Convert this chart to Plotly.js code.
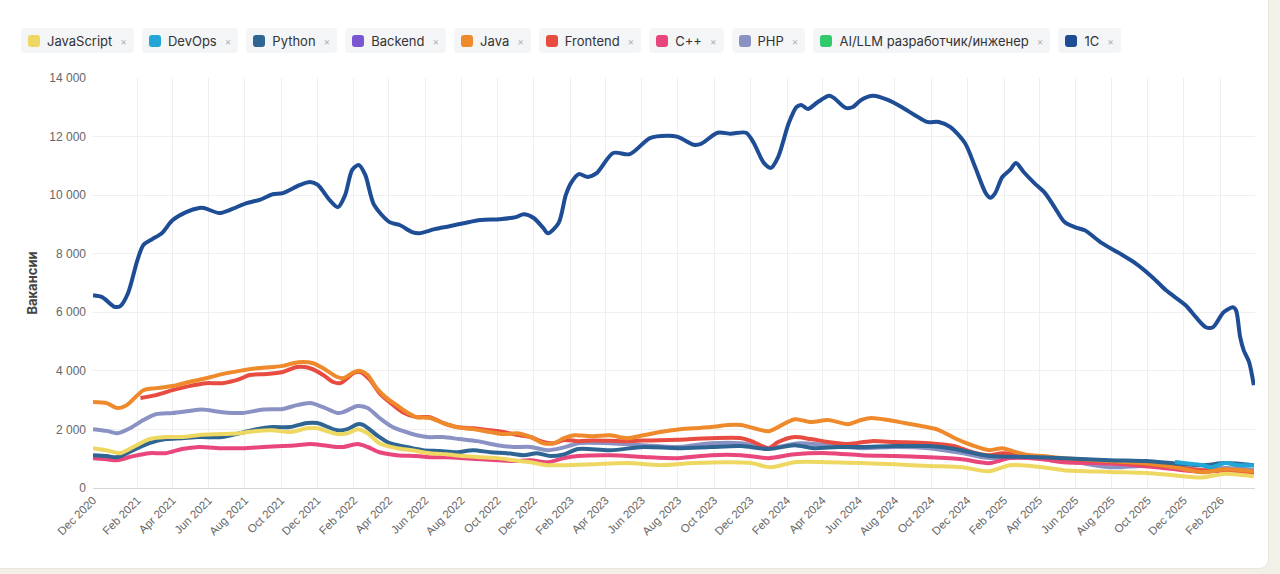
<!DOCTYPE html>
<html>
<head>
<meta charset="utf-8">
<script src="https://cdn.plot.ly/plotly-3.0.1.min.js"></script>
<style>
  html, body { margin: 0; padding: 0; width: 1280px; height: 574px; overflow: hidden; background: #f3f0e7; }
  #card { position: absolute; left: -12px; top: -12px; width: 1279px; height: 579px; background: #ffffff; border-radius: 10px; border: 1px solid #ebe7dc; }
  #legend { position: absolute; left: 21px; top: 28px; display: flex; gap: 8px; font-family: Inter, "Noto Sans", sans-serif; font-size: 13px; color: #333; }
  .chip { height: 25px; display: flex; align-items: center; background: #f4f5f7; border-radius: 4px; padding: 0 7px 0 7px; }
  .sw { width: 12px; height: 12px; border-radius: 3px; margin-right: 7px; }
  .x { color: #b0b0b0; font-size: 10px; margin-left: 8px; }
  #chart { position: absolute; left: 0; top: 0; width: 1280px; height: 574px; }
</style>
</head>
<body>
<div id="card"></div>
<div id="legend"></div>
<div id="chart"></div>
<script>
// ---- data ----
const seriesNames = ["JavaScript","DevOps","Python","Backend","Java","Frontend","C++","PHP","AI/LLM разработчик/инженер","1C"];

const jsDates = ["2020-11-18","2020-12-11","2021-01-03","2021-01-25","2021-02-21","2021-03-21","2021-04-17","2021-05-16","2021-06-24","2021-07-23","2021-08-21","2021-09-17","2021-10-16","2021-11-14","2021-12-01","2022-01-04","2022-01-21","2022-02-07","2022-02-24","2022-03-16","2022-04-14","2022-05-10","2022-06-09","2022-07-07","2022-08-04","2022-09-02","2022-10-01","2022-10-28","2022-11-26","2022-12-24","2023-01-21","2023-03-11","2023-05-07","2023-07-02","2023-08-28","2023-10-24","2023-12-02","2024-01-05","2024-02-14","2024-04-10","2024-06-05","2024-08-01","2024-09-27","2024-11-22","2025-01-07","2025-02-11","2025-04-06","2025-05-12","2025-07-29","2025-09-29","2025-11-16","2026-01-01","2026-02-09","2026-03-29"];
const jsValues = [1360,1290,1190,1400,1670,1740,1740,1810,1840,1870,1950,1970,1910,2040,2040,1840,1870,2010,1870,1530,1360,1290,1190,1150,1090,1050,1020,950,880,780,780,810,850,780,850,880,850,710,880,880,850,810,750,710,570,780,710,610,550,510,430,360,490,400];

const devopsDates = ["2025-11-16","2025-12-15","2026-01-01","2026-01-16","2026-02-09","2026-03-03","2026-03-29"];
const devopsValues = [890,820,780,710,850,780,780];

const pyDates = ["2020-11-18","2020-12-11","2020-12-29","2021-01-25","2021-02-21","2021-03-21","2021-04-17","2021-05-16","2021-06-24","2021-07-23","2021-08-21","2021-09-17","2021-10-16","2021-11-14","2021-12-01","2022-01-04","2022-01-21","2022-02-07","2022-02-17","2022-03-11","2022-04-02","2022-05-01","2022-05-28","2022-06-26","2022-07-24","2022-08-21","2022-09-19","2022-10-17","2022-11-14","2022-12-07","2022-12-29","2023-01-21","2023-02-14","2023-04-09","2023-06-04","2023-08-01","2023-09-26","2023-11-16","2024-01-01","2024-02-14","2024-03-17","2024-04-27","2024-06-05","2024-08-01","2024-09-27","2024-11-10","2025-01-07","2025-03-14","2025-05-12","2025-07-29","2025-09-29","2025-11-16","2026-01-01","2026-02-09","2026-03-29"];
const pyValues = [1120,1090,1050,1290,1530,1670,1700,1740,1740,1870,2010,2080,2080,2220,2220,1970,2010,2180,2150,1810,1530,1400,1290,1260,1220,1290,1220,1190,1120,1190,1090,1150,1330,1290,1400,1360,1400,1430,1330,1460,1360,1400,1400,1430,1430,1330,1090,1060,1020,950,920,840,780,850,780];

const backendDates = [];
const backendValues = [];

const javaDates = ["2020-11-18","2020-12-11","2020-12-29","2021-01-14","2021-02-11","2021-03-04","2021-04-01","2021-04-29","2021-05-28","2021-06-24","2021-07-23","2021-08-21","2021-09-17","2021-10-04","2021-10-21","2021-11-07","2021-11-24","2021-12-11","2022-01-04","2022-01-14","2022-02-01","2022-02-12","2022-02-24","2022-03-11","2022-03-28","2022-04-14","2022-05-01","2022-05-17","2022-06-09","2022-07-01","2022-07-24","2022-08-21","2022-09-19","2022-10-11","2022-11-04","2022-11-26","2022-12-17","2023-01-04","2023-01-21","2023-02-07","2023-03-11","2023-04-09","2023-05-07","2023-06-04","2023-07-02","2023-08-01","2023-08-28","2023-09-26","2023-10-24","2023-11-16","2023-12-07","2024-01-01","2024-01-17","2024-02-14","2024-03-12","2024-04-10","2024-04-27","2024-05-14","2024-06-05","2024-06-22","2024-07-20","2024-08-17","2024-09-16","2024-10-14","2024-11-10","2024-12-09","2025-01-07","2025-01-29","2025-02-21","2025-03-14","2025-04-06","2025-05-12","2025-07-29","2025-09-29","2025-11-16","2026-01-01","2026-02-09","2026-03-29"];
const javaValues = [2940,2900,2730,2830,3340,3410,3480,3620,3750,3890,4000,4090,4130,4170,4260,4300,4260,4090,3790,3750,3960,4000,3860,3410,3070,2830,2590,2420,2390,2220,2080,2010,1910,1840,1870,1740,1530,1530,1700,1800,1770,1800,1700,1800,1910,2000,2040,2080,2150,2150,2040,1940,2080,2350,2250,2320,2250,2180,2320,2390,2320,2220,2110,1980,1700,1460,1290,1360,1220,1120,1090,1020,920,840,710,540,640,560];

const feDates = ["2021-02-06","2021-03-04","2021-04-01","2021-04-29","2021-05-28","2021-06-24","2021-07-23","2021-08-09","2021-09-07","2021-10-04","2021-10-28","2021-11-19","2021-12-11","2021-12-28","2022-01-09","2022-02-01","2022-02-12","2022-02-28","2022-03-16","2022-04-02","2022-04-24","2022-05-17","2022-06-09","2022-07-01","2022-07-24","2022-08-21","2022-09-19","2022-10-11","2022-11-04","2022-11-26","2022-12-17","2023-01-04","2023-01-21","2023-02-14","2023-03-11","2023-04-09","2023-05-07","2023-06-04","2023-07-02","2023-08-01","2023-09-26","2023-11-16","2023-12-07","2024-01-01","2024-01-17","2024-02-14","2024-03-12","2024-04-10","2024-05-14","2024-06-22","2024-08-01","2024-09-27","2024-11-10","2024-12-09","2025-01-07","2025-01-29","2025-03-14","2025-05-12","2025-07-29","2025-10-16","2026-01-01","2026-02-09","2026-03-29"];
const feValues = [3070,3170,3340,3480,3580,3580,3720,3860,3890,3960,4130,4090,3860,3620,3580,3930,3960,3690,3240,2930,2590,2420,2420,2220,2080,2040,1970,1910,1810,1740,1570,1530,1640,1600,1620,1610,1600,1620,1630,1650,1700,1700,1570,1360,1570,1740,1670,1570,1500,1600,1570,1530,1430,1220,1120,1190,1120,1000,900,780,610,620,520];

const cppDates = ["2020-11-18","2020-12-11","2020-12-29","2021-01-25","2021-02-21","2021-03-21","2021-04-17","2021-05-16","2021-06-24","2021-07-28","2021-09-01","2021-10-04","2021-10-28","2021-11-19","2021-12-11","2022-01-04","2022-01-14","2022-02-07","2022-02-24","2022-03-16","2022-04-14","2022-05-17","2022-06-09","2022-07-07","2022-08-04","2022-09-02","2022-10-01","2022-10-28","2022-11-26","2022-12-24","2023-01-21","2023-02-14","2023-04-09","2023-06-04","2023-08-01","2023-09-26","2023-11-16","2024-01-01","2024-02-14","2024-04-10","2024-06-05","2024-08-01","2024-09-27","2024-11-22","2025-01-07","2025-02-11","2025-04-06","2025-05-12","2025-07-29","2025-10-16","2026-01-01","2026-02-09","2026-03-29"];
const cppValues = [1020,980,950,1090,1190,1190,1330,1400,1360,1360,1400,1430,1460,1500,1460,1400,1400,1500,1400,1220,1120,1090,1050,1050,1020,980,950,920,950,880,1020,1090,1120,1060,1020,1120,1120,1020,1150,1190,1120,1090,1050,980,850,1020,980,880,840,710,550,600,510];

const phpDates = ["2020-11-18","2020-12-11","2020-12-29","2021-01-19","2021-02-11","2021-03-04","2021-04-01","2021-04-29","2021-05-21","2021-06-24","2021-07-28","2021-09-01","2021-10-04","2021-10-28","2021-11-19","2021-12-11","2022-01-04","2022-01-14","2022-02-07","2022-02-24","2022-03-16","2022-04-07","2022-05-06","2022-06-04","2022-07-01","2022-07-29","2022-08-28","2022-10-01","2022-10-28","2022-11-26","2022-12-24","2023-01-16","2023-02-02","2023-02-14","2023-04-09","2023-06-04","2023-08-01","2023-09-26","2023-11-16","2024-01-01","2024-02-21","2024-04-10","2024-06-05","2024-08-01","2024-09-27","2024-11-22","2025-01-07","2025-03-14","2025-05-12","2025-07-29","2025-09-29","2025-11-16","2026-01-01","2026-02-09","2026-03-29"];
const phpValues = [2010,1950,1870,2040,2320,2520,2560,2630,2680,2590,2560,2680,2700,2830,2900,2760,2560,2590,2800,2730,2390,2080,1870,1740,1740,1670,1600,1460,1400,1400,1290,1360,1460,1530,1530,1460,1400,1530,1530,1360,1530,1460,1360,1400,1360,1190,1020,1060,960,710,760,720,600,680,620];

const aiDates = [];
const aiValues = [];

const c1Dates = ["2020-11-18","2020-12-04","2020-12-24","2021-01-03","2021-01-16","2021-02-01","2021-02-11","2021-02-26","2021-03-14","2021-04-01","2021-04-24","2021-05-16","2021-05-24","2021-06-19","2021-07-11","2021-08-04","2021-08-26","2021-09-17","2021-10-04","2021-11-02","2021-11-19","2021-12-02","2021-12-22","2022-01-05","2022-01-17","2022-01-29","2022-02-09","2022-02-20","2022-03-07","2022-04-02","2022-04-19","2022-05-10","2022-05-22","2022-06-17","2022-07-12","2022-08-07","2022-09-02","2022-10-05","2022-11-01","2022-11-14","2022-12-01","2022-12-17","2022-12-25","2023-01-12","2023-01-24","2023-02-02","2023-02-15","2023-03-02","2023-03-17","2023-04-14","2023-05-12","2023-06-15","2023-07-14","2023-08-01","2023-08-28","2023-09-09","2023-10-07","2023-10-29","2023-11-24","2023-12-07","2023-12-24","2024-01-05","2024-01-17","2024-02-04","2024-02-17","2024-02-25","2024-03-07","2024-03-24","2024-04-12","2024-04-20","2024-05-10","2024-05-22","2024-06-05","2024-06-25","2024-07-20","2024-08-12","2024-09-03","2024-09-24","2024-10-14","2024-11-02","2024-11-27","2024-12-14","2025-01-01","2025-01-09","2025-01-17","2025-01-29","2025-02-11","2025-02-21","2025-03-06","2025-03-24","2025-04-11","2025-04-28","2025-05-14","2025-06-01","2025-06-17","2025-07-16","2025-08-14","2025-09-10","2025-10-09","2025-11-01","2025-12-04","2025-12-21","2026-01-07","2026-01-19","2026-02-06","2026-02-22","2026-02-27","2026-03-06","2026-03-12","2026-03-21","2026-03-29"];
const c1Values = [6580,6510,6190,6210,6650,7790,8300,8500,8700,9140,9420,9560,9560,9390,9530,9730,9840,10030,10070,10350,10450,10350,9830,9590,10000,10860,11030,10690,9660,9080,8980,8740,8700,8840,8940,9050,9150,9180,9250,9350,9220,8880,8700,9050,10000,10420,10720,10620,10750,11440,11400,11950,12030,11990,11720,11750,12130,12100,12130,11780,11100,10930,11300,12460,13010,13080,12940,13180,13390,13320,12980,13010,13250,13390,13250,13010,12740,12500,12500,12330,11780,10970,10070,9910,10070,10620,10860,11100,10790,10410,10070,9560,9080,8900,8800,8360,8020,7680,7200,6750,6240,5840,5490,5490,6000,6170,6070,5150,4700,4300,3510];

const tickLabels = ["Dec 2020","Feb 2021","Apr 2021","Jun 2021","Aug 2021","Oct 2021","Dec 2021","Feb 2022","Apr 2022","Jun 2022","Aug 2022","Oct 2022","Dec 2022","Feb 2023","Apr 2023","Jun 2023","Aug 2023","Oct 2023","Dec 2023","Feb 2024","Apr 2024","Jun 2024","Aug 2024","Oct 2024","Dec 2024","Feb 2025","Apr 2025","Jun 2025","Aug 2025","Oct 2025","Dec 2025","Feb 2026"];
const tickDates = ["2020-11-18","2021-02-01","2021-04-01","2021-06-01","2021-08-01","2021-10-01","2021-12-01","2022-02-01","2022-04-01","2022-06-01","2022-08-01","2022-10-01","2022-12-01","2023-02-01","2023-04-01","2023-06-01","2023-08-01","2023-10-01","2023-12-01","2024-02-01","2024-04-01","2024-06-01","2024-08-01","2024-10-01","2024-12-01","2025-02-01","2025-04-01","2025-06-01","2025-08-01","2025-10-01","2025-12-01","2026-02-01"];

// ---- styles ----
const colors = ["#eed862","#22a6d6","#2e6592","#7b56d2","#ee8a2b","#e84b3f","#e9477b","#8a92c4","#30c96c","#1e4d96"];
const dataSets = [
  [jsDates, jsValues], [devopsDates, devopsValues], [pyDates, pyValues], [backendDates, backendValues],
  [javaDates, javaValues], [feDates, feValues], [cppDates, cppValues], [phpDates, phpValues],
  [aiDates, aiValues], [c1Dates, c1Values]
];

// legend chips
const leg = document.getElementById('legend');
seriesNames.forEach((n, i) => {
  const c = document.createElement('div'); c.className = 'chip';
  const s = document.createElement('div'); s.className = 'sw'; s.style.background = colors[i];
  const t = document.createElement('span'); t.textContent = n;
  const x = document.createElement('span'); x.className = 'x'; x.textContent = '×';
  c.appendChild(s); c.appendChild(t); c.appendChild(x); leg.appendChild(c);
});

const traces = [];
for (let i = seriesNames.length - 1; i >= 0; i--) {
  traces.push({
    type: 'scatter', mode: 'lines', name: seriesNames[i],
    x: dataSets[i][0], y: dataSets[i][1],
    line: { color: colors[i], width: 4, shape: 'spline', smoothing: 0.8 },
    showlegend: false, hoverinfo: 'skip'
  });
}

const layout = {
  width: 1280, height: 574,
  paper_bgcolor: 'rgba(0,0,0,0)', plot_bgcolor: 'rgba(0,0,0,0)',
  margin: { l: 93, r: 25, t: 78, b: 86 },
  separators: ', ',
  font: { family: '"Liberation Sans", Arial, sans-serif', size: 12, color: '#666' },
  showlegend: false,
  xaxis: {
    type: 'date', range: ['2020-11-18', '2026-03-31'],
    tickmode: 'array', tickvals: tickDates, ticktext: tickLabels,
    tickangle: -45, tickfont: { size: 11.5, color: '#666' },
    showgrid: true, gridcolor: '#efefef', gridwidth: 1,
    showline: true, linecolor: '#d6d6d6', linewidth: 1,
    zeroline: false, ticks: '', fixedrange: true
  },
  yaxis: {
    range: [0, 14000], dtick: 2000, tick0: 0, tickformat: ',d',
    tickfont: { size: 12, color: '#666' },
    showgrid: true, gridcolor: '#efefef', gridwidth: 1,
    zeroline: false, showline: false, ticks: '', ticklabelstandoff: 6,
    title: { text: 'Вакансии', font: { size: 13, color: '#444', family: 'Inter, "Noto Sans", sans-serif', weight: 'bold' }, standoff: 8 },
    automargin: false, fixedrange: true
  }
};

Plotly.newPlot('chart', traces, layout, { staticPlot: true, displayModeBar: false });
</script>
</body>
</html>
